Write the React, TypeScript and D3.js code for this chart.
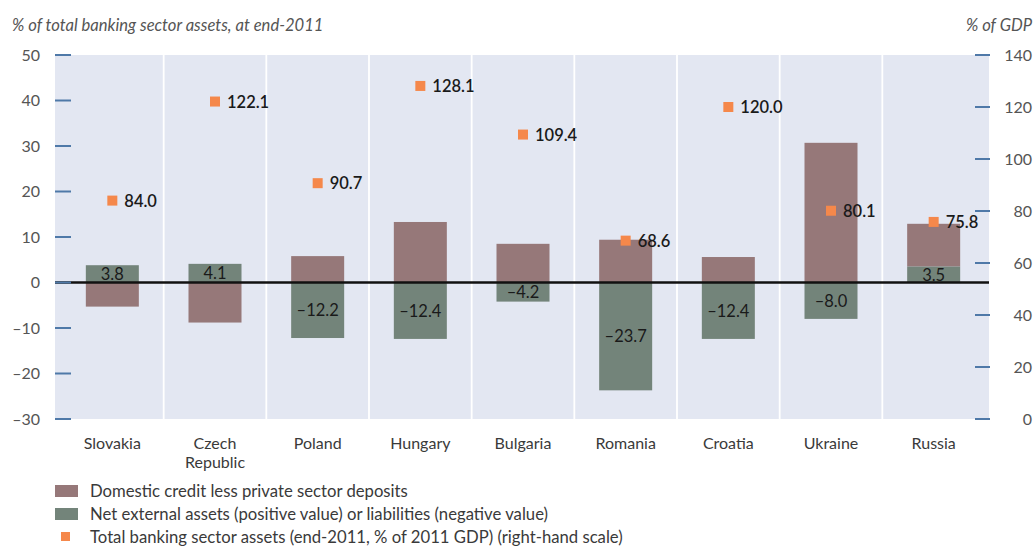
import React from "react";
import * as d3 from "d3";

const categories = ["Slovakia", "Czech\nRepublic", "Poland", "Hungary", "Bulgaria", "Romania", "Croatia", "Ukraine", "Russia"];
const domesticCredit = [-5.3, -8.8, 5.8, 13.3, 8.5, 9.4, 5.6, 30.7, 9.4];
const netExternal = [3.8, 4.1, -12.2, -12.4, -4.2, -23.7, -12.4, -8.0, 3.5];
const totalAssets = [84.0, 122.1, 90.7, 128.1, 109.4, 68.6, 120.0, 80.1, 75.8];
const leftTicks = [-30, -20, -10, 0, 10, 20, 30, 40, 50];
const rightTicks = [0, 20, 40, 60, 80, 100, 120, 140];
const legendLabels = [
  "Domestic credit less private sector deposits",
  "Net external assets (positive value) or liabilities (negative value)",
  "Total banking sector assets (end-2011, % of 2011 GDP) (right-hand scale)",
];

const W = 1034, H = 546;
const plotL = 55, plotR = 989, plotT = 55, plotB = 419;
const PINK = "#967879";
const GREEN = "#73847a";
const ORANGE = "#f5884b";
const BG = "#e3e7f2";
const TICK = "#4f79a8";
const FONT = "Lato, 'Open Sans', sans-serif";

const fmt = (v: number) => (v < 0 ? "\u2013" + Math.abs(v).toFixed(1) : v.toFixed(1));

export default function App() {
  const x = d3.scaleBand<number>().domain(d3.range(categories.length)).range([61, 985]).paddingInner(0).paddingOuter(0);
  const step = x.step();
  const barW = 53;
  const yL = d3.scaleLinear().domain([-30, 50]).range([plotB, plotT]);
  const yR = d3.scaleLinear().domain([0, 140]).range([plotB, plotT]);

  const rows = categories.map((c, i) => ({ i, external: netExternal[i], domestic: domesticCredit[i] }));
  const stack = d3.stack<any>().keys(["external", "domestic"]).offset(d3.stackOffsetDiverging);
  const series = stack(rows);
  const colors: Record<string, string> = { external: GREEN, domestic: PINK };
  const order = ["domestic", "external"];

  return (
    <svg width={W} height={H} style={{ position: "absolute", left: 0, top: 0, background: "#fff" }} fontFamily={FONT}>
      <rect x={plotL} y={plotT} width={plotR - plotL} height={plotB - plotT} fill={BG} />
      {d3.range(1, categories.length).map((k) => {
        const sx = (x(k) as number);
        return <line key={"sep" + k} x1={sx} x2={sx} y1={plotT} y2={plotB} stroke="#fff" strokeWidth={1.8} />;
      })}
      {order.map((key) => {
        const s = series.find((q) => q.key === key)!;
        return s.map((d, i) => {
          const cx = (x(i) as number) + step / 2;
          const y0 = yL(Math.max(d[0], d[1]));
          const y1 = yL(Math.min(d[0], d[1]));
          return <rect key={key + i} x={cx - barW / 2} y={y0} width={barW} height={y1 - y0} fill={colors[key]} />;
        });
      })}
      <line x1={plotL} x2={plotR} y1={yL(0)} y2={yL(0)} stroke="#111" strokeWidth={2.5} />
      {netExternal.map((v, i) => {
        const cx = (x(i) as number) + step / 2;
        const ym = (yL(0) + yL(v)) / 2;
        return (
          <text key={"ev" + i} x={cx} y={ym + 6} textAnchor="middle" fontSize={16.5} fill="#1a1a1a">
            {fmt(v)}
          </text>
        );
      })}
      {totalAssets.map((v, i) => {
        const cx = (x(i) as number) + step / 2;
        const cy = yR(v);
        return (
          <g key={"ta" + i}>
            <rect x={cx - 5} y={cy - 5} width={10} height={10} fill={ORANGE} />
            <text x={cx + 12} y={cy + 6} fontSize={16.5} fill="#1a1a1a" fontWeight={600}>
              {v.toFixed(1)}
            </text>
          </g>
        );
      })}
      {leftTicks.map((t) => (
        <g key={"lt" + t}>
          <line x1={plotL} x2={plotL + 16} y1={yL(t)} y2={yL(t)} stroke={TICK} strokeWidth={2} />
          <text x={40} y={yL(t) + 5.5} textAnchor="end" fontSize={16} fill="#555">
            {fmt(t).replace(".0", "")}
          </text>
        </g>
      ))}
      {rightTicks.map((t) => (
        <g key={"rt" + t}>
          <line x1={plotR - 14} x2={plotR + 1} y1={yR(t)} y2={yR(t)} stroke={TICK} strokeWidth={2} />
          <text x={1032} y={yR(t) + 5.5} textAnchor="end" fontSize={16} fill="#555">
            {t}
          </text>
        </g>
      ))}
      {categories.map((c, i) => {
        const cx = (x(i) as number) + step / 2;
        return (
          <text key={"cat" + i} x={cx} y={449} textAnchor="middle" fontSize={16} fill="#3a3a3a">
            {c.split("\n").map((ln, j) => (
              <tspan key={j} x={cx} dy={j === 0 ? 0 : 19}>{ln}</tspan>
            ))}
          </text>
        );
      })}
      <text x={12} y={31} fontSize={16.6} fontStyle="italic" fill="#555">% of total banking sector assets, at end-2011</text>
      <text x={1032} y={31} fontSize={16.6} fontStyle="italic" fill="#555" textAnchor="end">% of GDP</text>
      <rect x={55} y={485} width={23} height={12} fill={PINK} />
      <rect x={55} y={508} width={23} height={12} fill={GREEN} />
      <rect x={61} y={532} width={9} height={9} fill={ORANGE} />
      {legendLabels.map((l, i) => (
        <text key={"lg" + i} x={90} y={497 + i * 23} fontSize={16.7} fill="#3a3a3a">{l}</text>
      ))}
    </svg>
  );
}
